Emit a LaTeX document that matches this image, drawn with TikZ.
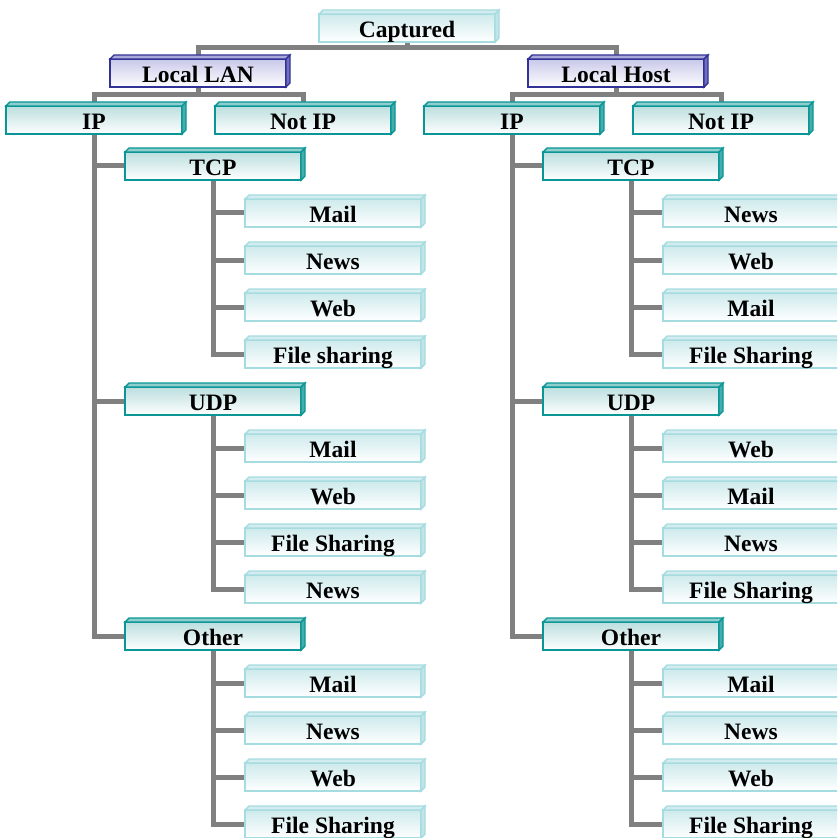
\documentclass[tikz,border=0pt]{standalone}
\usepackage{fontspec}
\setmainfont{Liberation Serif}
\usetikzlibrary{calc}
\usetikzlibrary{backgrounds}
\definecolor{conn-gray}{RGB}{128,128,128}
\definecolor{teal-line}{RGB}{10,150,150}
\definecolor{teal-top}{RGB}{188,222,222}
\definecolor{teal-side}{RGB}{70,172,172}
\definecolor{leaf-line}{RGB}{165,220,224}
\definecolor{leaf-top}{RGB}{206,234,236}
\definecolor{leaf-side}{RGB}{192,228,232}
\definecolor{host-line}{RGB}{50,50,150}
\definecolor{host-top}{RGB}{200,200,234}
\definecolor{host-side}{RGB}{112,112,192}
\tikzset{
%%%%%%%%%%  Box styles
box/.style={rectangle, minimum width=149.6pt, minimum height=23.8pt,
            inner sep=0pt, outer sep=0pt, text height=18pt, text depth=1.6pt,
            font=\fontsize{20}{24}\selectfont\bfseries},
leafbox/.style={box, draw=leaf-line, line width=1.2pt,
                top color=leaf-top, bottom color=white},
leafbox_top/.style={fill=leaf-side!70!white, draw=leaf-line, line width=1.2pt},
leafbox_side/.style={fill=leaf-side, draw=leaf-line, line width=1.2pt},
capbox/.style={leafbox},
capbox_top/.style={leafbox_top},
capbox_side/.style={leafbox_side},
protobox/.style={box, draw=teal-line, line width=1.4pt,
                 top color=teal-top, bottom color=white},
protobox_top/.style={fill=teal-side!60!white, draw=teal-line, line width=1.2pt},
protobox_side/.style={fill=teal-side, draw=teal-line, line width=1.2pt},
hostbox/.style={box, draw=host-line, line width=1.4pt,
                top color=host-top, bottom color=white},
hostbox_top/.style={fill=host-side!60!white, draw=host-line, line width=1.2pt},
hostbox_side/.style={fill=host-side, draw=host-line, line width=1.2pt},
%%%%%%%%%%  Connector style
conn/.style={line width=4.25pt, draw=conn-gray}
}
%% box with a shallow 3d edge: style, name, position, text
\newcommand{\tbox}[4]{%
\node[#1] (#2) at #3 {#4};
\filldraw[#1_top] (#2.north west) -- ++(4,-4)
	-- ($(#2.north east)+(4,-4)$) -- (#2.north east) -- cycle;
\filldraw[#1_side] (#2.north east) -- ++(4,-4)
	-- ($(#2.south east)+(4,-4)$) -- (#2.south east) -- cycle;
}
\begin{document}
\begin{tikzpicture}[x=0.85pt,y=-0.85pt]
\useasboundingbox (0,0) rectangle (837,838);
\clip (0,0) rectangle (837,838);
%% top levels
\tbox{capbox}{cap}{(407,28)}{Captured}
\tbox{hostbox}{lan}{(198,73)}{Local LAN}
\tbox{hostbox}{host}{(616,73)}{Local Host}
\tbox{protobox}{ipL}{(94,120)}{IP}
\tbox{protobox}{notipL}{(303,120)}{Not IP}
\tbox{protobox}{ipR}{(512,120)}{IP}
\tbox{protobox}{notipR}{(721,120)}{Not IP}
%%%%%%%%%%%%%%%%%%%%%%%%%%%%%%%%%%%%%%%%%%%%%%%%%%%%%%%
%% Local LAN, IP branch
\tbox{protobox}{tcpL}{(213,166)}{TCP}
\tbox{protobox}{udpL}{(213,401)}{UDP}
\tbox{protobox}{otherL}{(213,636)}{Other}
\foreach \lab [count=\i] in {Mail,News,Web,File sharing}
	{\tbox{leafbox}{tcpL\i}{(333,166+47*\i)}{\lab}}
\foreach \lab [count=\i] in {Mail,Web,File Sharing,News}
	{\tbox{leafbox}{udpL\i}{(333,401+47*\i)}{\lab}}
\foreach \lab [count=\i] in {Mail,News,Web,File Sharing}
	{\tbox{leafbox}{otherL\i}{(333,636+47*\i)}{\lab}}
%%%%%%%%%%%%%%%%%%%%%%%%%%%%%%%%%%%%%%%%%%%%%%%%%%%%%%%
%% Local Host, IP branch
\tbox{protobox}{tcpR}{(631,166)}{TCP}
\tbox{protobox}{udpR}{(631,401)}{UDP}
\tbox{protobox}{otherR}{(631,636)}{Other}
\foreach \lab [count=\i] in {News,Web,Mail,File Sharing}
	{\tbox{leafbox}{tcpR\i}{(751,166+47*\i)}{\lab}}
\foreach \lab [count=\i] in {Web,Mail,News,File Sharing}
	{\tbox{leafbox}{udpR\i}{(751,401+47*\i)}{\lab}}
\foreach \lab [count=\i] in {Mail,News,Web,File Sharing}
	{\tbox{leafbox}{otherR\i}{(751,636+47*\i)}{\lab}}
%%%%%%%%%%%%%%%%%%%%%%%%%%%%%%%%%%%%%%%%%%%%%%%%%%%%%%%
%% connectors
\begin{scope}[on background layer]
\draw[conn] (cap.south) -- ++(0,6) coordinate (capjoin);
\draw[conn] (lan.north) |- (capjoin) -| (host.north);
\draw[conn] (lan.south) -- ++(0,8) coordinate (lanjoin);
\draw[conn] (ipL.north) |- (lanjoin) -| (notipL.north);
\draw[conn] (host.south) -- ++(0,8) coordinate (hostjoin);
\draw[conn] (ipR.north) |- (hostjoin) -| (notipR.north);
\foreach \p in {tcpL,udpL,otherL}{
	\draw[conn] (ipL.south) |- (\p.west);
	\foreach \i in {1,...,4} \draw[conn] (\p.south) |- (\p\i.west);
}
\foreach \p in {tcpR,udpR,otherR}{
	\draw[conn] (ipR.south) |- (\p.west);
	\foreach \i in {1,...,4} \draw[conn] (\p.south) |- (\p\i.west);
}
\end{scope}
\end{tikzpicture}
\end{document}
